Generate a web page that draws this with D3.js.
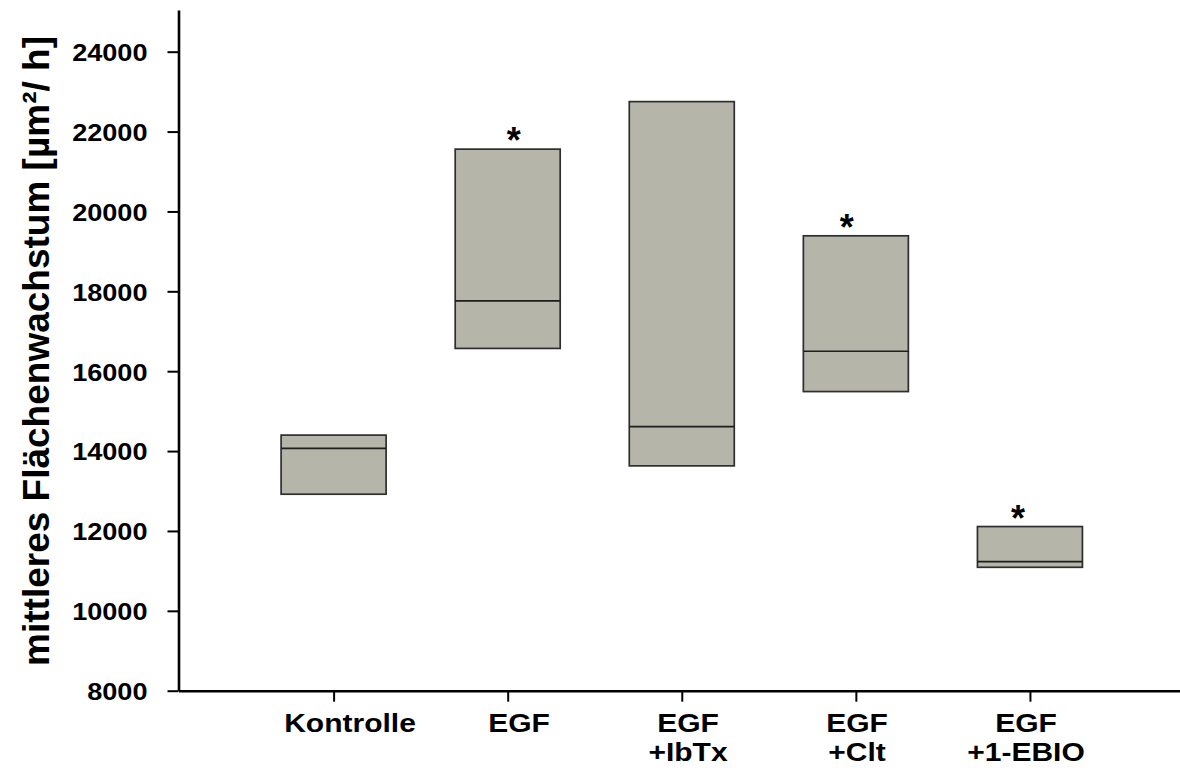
<!DOCTYPE html>
<html>
<head>
<meta charset="utf-8">
<script src="https://cdn.jsdelivr.net/npm/d3@7"></script>
<style>
  html, body { margin: 0; padding: 0; background: #fff; }
  svg { display: block; font-family: "Liberation Sans", Arial, sans-serif; font-weight: bold; }
</style>
</head>
<body>
<svg id="chart" width="1180" height="773"></svg>
<script>
// Groups (each label may span two lines)
const categories = [["Kontrolle"], ["EGF"], ["EGF", "+IbTx"], ["EGF", "+Clt"], ["EGF", "+1-EBIO"]];
// Box edges and medians, µm²/h
const upper  = [14400, 21560, 22750, 19390, 12110];
const median = [14070, 17760, 14610, 16500, 11230];
const lower  = [12920, 16570, 13630, 15490, 11090];
// Groups marked as significant
const significant = [false, true, false, true, true];
// Y axis ticks
const yTicks = [8000, 10000, 12000, 14000, 16000, 18000, 20000, 22000, 24000];
const yTitle = "mittleres Flächenwachstum [µm²/ h]";

const svg = d3.select("#chart");
const idx = categories.map((d, i) => i);

const y = d3.scaleLinear().domain([8000, 25044]).range([690.7, 10]);
const x = d3.scaleLinear().domain([-0.891, 4.862]).range([178.5, 1180]);
const xLabel = d3.scaleLinear().domain([0, 4]).range([350, 1026]);
const boxW = 105;
const starDx = [0, 6, 0, -9, -12];

// Boxes
const boxes = svg.append("g");
boxes.selectAll("rect")
  .data(idx)
  .join("rect")
  .attr("x", i => x(i) - boxW / 2)
  .attr("width", boxW)
  .attr("y", i => y(upper[i]))
  .attr("height", i => y(lower[i]) - y(upper[i]))
  .attr("fill", "#b5b5aa")
  .attr("stroke", "#2e2e2e")
  .attr("stroke-width", 1.7);

boxes.selectAll("line")
  .data(idx)
  .join("line")
  .attr("x1", i => x(i) - boxW / 2)
  .attr("x2", i => x(i) + boxW / 2)
  .attr("y1", i => y(median[i]))
  .attr("y2", i => y(median[i]))
  .attr("stroke", "#1e1e1e")
  .attr("stroke-width", 1.7);

// Significance stars
svg.append("g").selectAll("text")
  .data(idx.filter(i => significant[i]))
  .join("text")
  .attr("x", i => x(i) + starDx[i])
  .attr("y", i => y(upper[i]) + 4)
  .attr("text-anchor", "middle")
  .attr("font-size", 36)
  .attr("fill", "#000")
  .text("*");

// Y axis
const yAxis = svg.append("g")
  .attr("transform", "translate(178.5,0)")
  .call(d3.axisLeft(y).tickValues(yTicks).tickSize(11).tickPadding(0).tickSizeOuter(0).tickFormat(d3.format("d")));
yAxis.select(".domain").attr("stroke", "#000").attr("stroke-width", 2.6);
yAxis.selectAll(".tick line").attr("stroke", "#000").attr("stroke-width", 2);
yAxis.selectAll(".tick text")
  .attr("font-size", 24)
  .attr("font-family", "'Liberation Sans', Arial, sans-serif")
  .attr("font-weight", "bold")
  .attr("fill", "#000")
  .attr("x", -31 / 1.13)
  .attr("dy", "0.37em")
  .attr("transform", "scale(1.13,1)");

// X axis
const xAxis = svg.append("g")
  .attr("transform", "translate(0,690.7)")
  .call(d3.axisBottom(x).tickValues(idx).tickSize(11).tickSizeOuter(0).tickFormat(""));
xAxis.select(".domain").attr("stroke", "#000").attr("stroke-width", 2.6);
xAxis.selectAll(".tick line").attr("stroke", "#000").attr("stroke-width", 2);

// Category labels
const labels = svg.append("g").selectAll("g")
  .data(idx)
  .join("g")
  .attr("transform", i => `translate(${xLabel(i)},732)`);
labels.append("text")
  .attr("text-anchor", "middle")
  .attr("font-size", 25)
  .attr("fill", "#000")
  .attr("transform", "scale(1.2,1)")
  .selectAll("tspan")
  .data(i => categories[i])
  .join("tspan")
  .attr("x", 0)
  .attr("dy", (d, j) => j === 0 ? 0 : 29)
  .text(d => d);

// Y axis title
svg.append("text")
  .attr("transform", "translate(49,351) rotate(-90)")
  .attr("text-anchor", "middle")
  .attr("font-size", 37)
  .attr("fill", "#000")
  .text(yTitle);
</script>
</body>
</html>
